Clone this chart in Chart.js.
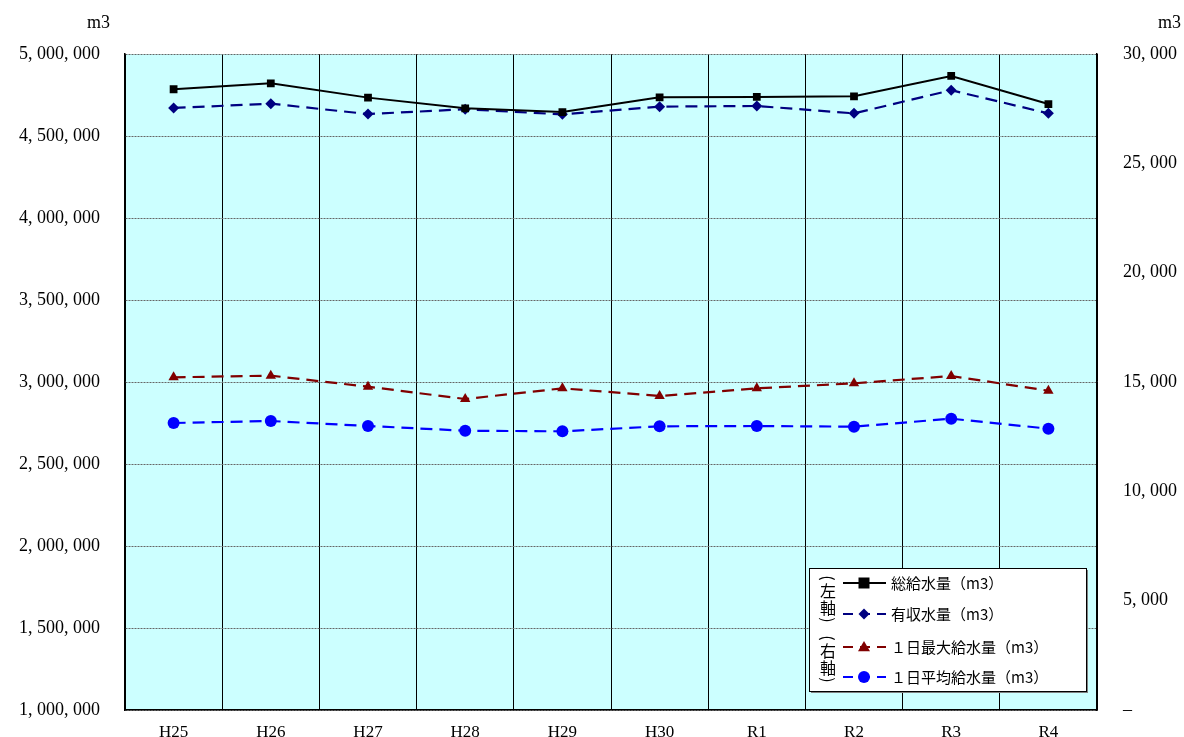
<!DOCTYPE html>
<html>
<head>
<meta charset="utf-8">
<script src="https://cdn.jsdelivr.net/npm/chart.js@4/dist/chart.umd.min.js"></script>
<style>
  html, body { margin: 0; padding: 0; background: #fff; }
  #wrap { width: 1184px; height: 737px; }
</style>
</head>
<body>
<div id="wrap"><canvas id="grafica"></canvas></div>
<script>
// 年度
var nendo = ['H25', 'H26', 'H27', 'H28', 'H29', 'H30', 'R1', 'R2', 'R3', 'R4'];
// 左軸 (m3)
var soukyusui = [4785000, 4821000, 4734000, 4669000, 4646000, 4736000, 4738000, 4742000, 4866000, 4695000];
var yushusui = [4671000, 4697000, 4634000, 4663000, 4632000, 4679000, 4683000, 4638000, 4779000, 4638000];
// 右軸 (m3)
var ichinichiSaidai = [15215, 15290, 14785, 14222, 14710, 14360, 14710, 14940, 15275, 14600];
var ichinichiHeikin = [13125, 13216, 12988, 12773, 12744, 12974, 12988, 12957, 13322, 12866];
var legendLabels = ['総給水量（m3）', '有収水量（m3）', '１日最大給水量（m3）', '１日平均給水量（m3）'];

var numFont = '"Liberation Serif", "DejaVu Serif", serif';
var jpFont = '"Noto Sans CJK JP", sans-serif';

function fmt(v) {
    return v.toLocaleString('en-US').replace(/,/g, ', ');
}

function marker(ctx, style, x, y, r, color) {
    ctx.save();
    ctx.fillStyle = color;
    ctx.beginPath();
    if (style === 'rect') {
        ctx.rect(x - r, y - r, r * 2, r * 2);
    } else if (style === 'rectRot') {
        ctx.moveTo(x, y - r); ctx.lineTo(x + r, y); ctx.lineTo(x, y + r); ctx.lineTo(x - r, y);
    } else if (style === 'triangle') {
        ctx.moveTo(x, y - r); ctx.lineTo(x + r, y + r * 0.7); ctx.lineTo(x - r, y + r * 0.7);
    } else {
        ctx.arc(x, y, r, 0, Math.PI * 2);
    }
    ctx.closePath();
    ctx.fill();
    ctx.restore();
}

var fondo = {
    id: 'fondo',
    beforeDraw: function (chart) {
        var a = chart.chartArea, ctx = chart.ctx;
        ctx.save();
        ctx.fillStyle = '#CCFFFF';
        ctx.fillRect(a.left, a.top, a.right - a.left, a.bottom - a.top);
        ctx.restore();
    }
};

var leyenda = {
    id: 'leyenda',
    afterDraw: function (chart) {
        var ctx = chart.ctx, a = chart.chartArea;
        ctx.save();
        // 単位
        ctx.fillStyle = '#000';
        ctx.font = '18px ' + numFont;
        ctx.textBaseline = 'middle';
        ctx.textAlign = 'right';
        ctx.fillText('m3', a.left - 15, 23);
        ctx.textAlign = 'left';
        ctx.fillText('m3', a.right + 61, 23);

        // 凡例の枠
        var bx = 809, by = 568, bw = 277, bh = 123;
        ctx.fillStyle = '#808080';
        ctx.fillRect(bx + 2, by + 2, bw, bh);
        ctx.fillStyle = '#fff';
        ctx.fillRect(bx, by, bw, bh);
        ctx.strokeStyle = '#000';
        ctx.lineWidth = 1;
        ctx.strokeRect(bx + 0.5, by + 0.5, bw, bh);

        var rows = [583, 614, 647, 677];
        chart.data.datasets.forEach(function (ds, i) {
            var y = rows[i];
            ctx.save();
            ctx.strokeStyle = ds.borderColor;
            ctx.lineWidth = 2;
            ctx.setLineDash(ds.borderDash ? [10, 7] : []);
            ctx.beginPath();
            ctx.moveTo(843, y);
            ctx.lineTo(886, y);
            ctx.stroke();
            ctx.restore();
            marker(ctx, ds.pointStyle, 864, y, ds.pointRadius, ds.pointBackgroundColor);
            ctx.fillStyle = '#000';
            ctx.font = '15px ' + jpFont;
            ctx.textAlign = 'left';
            ctx.textBaseline = 'middle';
            ctx.fillText(legendLabels[i], 891, y);
        });

        // (左軸) (右軸)
        function vertical(chars, ys) {
            ctx.font = '16px ' + jpFont;
            ctx.textAlign = 'center';
            ctx.textBaseline = 'middle';
            ctx.fillStyle = '#000';
            chars.forEach(function (c, k) {
                if (c === '(' || c === ')') {
                    ctx.save();
                    ctx.translate(828, ys[k]);
                    ctx.rotate(Math.PI / 2);
                    ctx.fillText(c, 0, 0);
                    ctx.restore();
                } else {
                    ctx.fillText(c, 828, ys[k]);
                }
            });
        }
        vertical(['(', '左', '軸', ')'], [578, 591, 608, 620]);
        vertical(['(', '右', '軸', ')'], [638, 651, 668, 680]);
        ctx.restore();
    }
};

new Chart(document.getElementById('grafica'), {
    type: 'line',
    data: {
        labels: nendo,
        datasets: [{
            label: legendLabels[0],
            data: soukyusui,
            yAxisID: 'y',
            borderColor: '#000000',
            pointBackgroundColor: '#000000',
            pointBorderWidth: 0,
            borderWidth: 2,
            pointStyle: 'rect',
            pointRadius: 5.5,
            tension: 0
        }, {
            label: legendLabels[1],
            data: yushusui,
            yAxisID: 'y',
            borderColor: '#000080',
            pointBackgroundColor: '#000080',
            pointBorderWidth: 0,
            borderWidth: 2.2,
            borderDash: [12, 7],
            pointStyle: 'rectRot',
            pointRadius: 5.5,
            tension: 0
        }, {
            label: legendLabels[2],
            data: ichinichiSaidai,
            yAxisID: 'y1',
            borderColor: '#800000',
            pointBackgroundColor: '#800000',
            pointBorderWidth: 0,
            borderWidth: 2.2,
            borderDash: [12, 7],
            pointStyle: 'triangle',
            pointRadius: 6,
            tension: 0
        }, {
            label: legendLabels[3],
            data: ichinichiHeikin,
            yAxisID: 'y1',
            borderColor: '#0000FF',
            pointBackgroundColor: '#0000FF',
            pointBorderWidth: 0,
            borderWidth: 2.2,
            borderDash: [12, 7],
            pointStyle: 'circle',
            pointRadius: 6,
            tension: 0
        }]
    },
    options: {
        responsive: true,
        maintainAspectRatio: false,
        animation: false,
        events: [],
        layout: { padding: { top: 54, left: 0, right: 0, bottom: 0 } },
        plugins: {
            legend: { display: false },
            tooltip: { enabled: false }
        },
        scales: {
            x: {
                offset: true,
                grid: { offset: true, color: '#000000', drawTicks: false, lineWidth: 1 },
                border: { color: '#000000', width: 1.5 },
                ticks: { color: '#000', padding: 12, font: { family: numFont, size: 17 } },
                afterFit: function (s) { s.height = 27; s.paddingLeft = 0; s.paddingRight = 0; }
            },
            y: {
                position: 'left',
                min: 1000000,
                max: 5000000,
                grid: { color: '#666666', drawTicks: false, lineWidth: 1 },
                border: { color: '#000000', width: 1.5, dash: [2, 1] },
                ticks: {
                    stepSize: 500000,
                    color: '#000',
                    padding: 25,
                    font: { family: numFont, size: 18 },
                    callback: function (v) { return fmt(v); }
                },
                afterFit: function (s) { s.width = 125; s.paddingTop = 0; s.paddingBottom = 0; }
            },
            y1: {
                position: 'right',
                min: 0,
                max: 30000,
                grid: { display: false },
                border: { color: '#000000', width: 1.5 },
                ticks: {
                    stepSize: 5000,
                    color: '#000',
                    padding: 18,
                    font: { family: numFont, size: 18 },
                    callback: function (v) { return v === 0 ? '–' : fmt(v); }
                },
                afterFit: function (s) { s.width = 87; s.paddingTop = 0; s.paddingBottom = 0; }
            }
        }
    },
    plugins: [fondo, leyenda]
});
</script>
</body>
</html>
